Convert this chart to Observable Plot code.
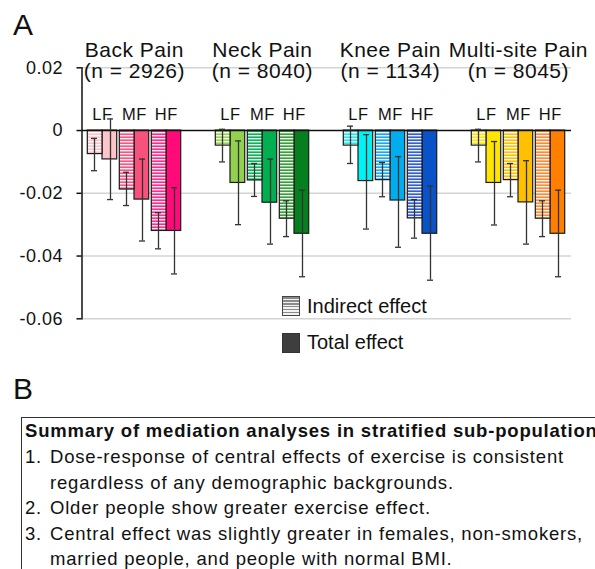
<!DOCTYPE html>
<html>
<head>
<meta charset="utf-8">
<script src="https://cdn.jsdelivr.net/npm/d3@7"></script>
<script src="https://cdn.jsdelivr.net/npm/@observablehq/plot@0.6"></script>
<style>
  html, body { margin: 0; padding: 0; background: #fff; }
  body { width: 595px; height: 569px; overflow: hidden; position: relative;
         font-family: "Liberation Sans", Arial, Helvetica, sans-serif; color: #111; }
  #chart { position: absolute; left: 0; top: 0; }
  .abs { position: absolute; line-height: 1; white-space: nowrap; }
  .panel { font-size: 30px; }
  .leg { font-size: 20px; }
  .sw { position: absolute; width: 16px; height: 18px; box-sizing: content-box; }
  .sw-ind { border: 1.2px solid #444;
            background: repeating-linear-gradient(to bottom, #8a8a8a 0px, #8a8a8a 1.5px, #f2f2f2 1.5px, #f2f2f2 3px); }
  .sw-tot { border: 1.2px solid #333; background: #3e3e3e; }
  #box { position: absolute; left: 21px; top: 416.5px; width: 700px; height: 220px;
         border: 1.5px solid #333; }
  .bt { font-size: 18.5px; letter-spacing: 0.8px; }
  .bold { font-weight: bold; letter-spacing: 0.8px; }
</style>
</head>
<body>
<div id="chart"></div>

<div class="abs panel" style="left:13px; top:9.6px;">A</div>

<div class="sw sw-ind" style="left:282px; top:296px;"></div>
<div class="abs leg" style="left:307px; top:296.2px;">Indirect effect</div>
<div class="sw sw-tot" style="left:282px; top:332.5px;"></div>
<div class="abs leg" style="left:307px; top:331.5px;">Total effect</div>

<div class="abs panel" style="left:13px; top:373.6px;">B</div>
<div id="box"></div>
<div id="summary"></div>

<script>
// ---------------- data ----------------
const groups = ["Back Pain", "Neck Pain", "Knee Pain", "Multi-site Pain"];
const sampleSizes = [2926, 8040, 1134, 8045];
const levels = ["LF", "MF", "HF"];
const effects = ["Indirect", "Total"];

// values in group order (Back, Neck, Knee, Multi-site), each LF, MF, HF
const indirectMean = [-0.0075, -0.0188, -0.0320,  -0.0048, -0.0159, -0.0281,  -0.0048, -0.0158, -0.0280,  -0.0048, -0.0158, -0.0281];
const indirectLow  = [-0.0128, -0.0239, -0.0377,  -0.0100, -0.0210, -0.0338,  -0.0105, -0.0211, -0.0343,  -0.0100, -0.0211, -0.0338];
const indirectHigh = [-0.0025, -0.0133, -0.0262,   0.0004, -0.0105, -0.0224,   0.0014, -0.0102, -0.0220,   0.0004, -0.0105, -0.0224];

const totalMean = [-0.0092, -0.0220, -0.0320,  -0.0167, -0.0230, -0.0329,  -0.0161, -0.0223, -0.0329,  -0.0167, -0.0229, -0.0329];
const totalLow  = [-0.0220, -0.0352, -0.0457,  -0.0300, -0.0362, -0.0466,  -0.0314, -0.0372, -0.0477,  -0.0301, -0.0362, -0.0466];
const totalHigh = [ 0.0037, -0.0091, -0.0182,  -0.0033, -0.0091, -0.0190,  -0.0013, -0.0083, -0.0177,  -0.0035, -0.0096, -0.0190];

const indirectColors = ["#fac4cb", "#fb5582", "#ff2d8c",  "#9ad350", "#0db35a", "#3b9d3b",  "#1ee8f0", "#1aa8ee", "#3360cc",  "#ffe600", "#ffc000", "#ff8a33"];
const totalColors    = ["#fcc5c9", "#f7527b", "#ff0a78",  "#92d050", "#00b050", "#067f1e",  "#00f2f5", "#00aeef", "#0a52c8",  "#ffe600", "#ffc000", "#ff8000"];

const yTicks = [0.02, 0, -0.02, -0.04, -0.06];

const summaryTitle = "Summary of mediation analyses in stratified sub-populations";
const summaryItems = [
  ["1.", "Dose-response of central effects of exercise is consistent"],
  ["",   "regardless of any demographic backgrounds."],
  ["2.", "Older people show greater exercise effect."],
  ["3.", "Central effect was slightly greater in females, non-smokers,"],
  ["",   "married people, and people with normal BMI."]
];

// ---------------- build tables ----------------
const key = (g, l, e) => `${g}|${l}|${e}`;
const xDomain = [];
groups.forEach((g, gi) => {
  levels.forEach(l => effects.forEach(e => xDomain.push(key(g, l, e))));
  if (gi < groups.length - 1) effects.forEach(e => xDomain.push(`gap${gi}|${e}`));
});

const rows = [];
groups.forEach((g, gi) => levels.forEach((l, li) => {
  const i = gi * levels.length + li;
  rows.push({group: g, level: l, effect: "Indirect", x: key(g, l, "Indirect"),
             value: indirectMean[i], lo: indirectLow[i], hi: indirectHigh[i], color: indirectColors[i]});
  rows.push({group: g, level: l, effect: "Total", x: key(g, l, "Total"),
             value: totalMean[i], lo: totalLow[i], hi: totalHigh[i], color: totalColors[i]});
}));
const indirectRows = rows.filter(d => d.effect === "Indirect");
const totalRows = rows.filter(d => d.effect === "Total");
const headerRows = groups.map((g, i) => ({group: g, n: sampleSizes[i], x: key(g, "MF", "Total")}));

// ---------------- layout ----------------
const W = 595, H = 360;
const mL = 81.5, mR = 24, mT = 67.3, mB = 41.7;
const subStep = (W - mL - mR) / xDomain.length;
const barStroke = "#1a1a1a";
const errStroke = "#333";

const chart = Plot.plot({
  width: W, height: H,
  marginLeft: mL, marginRight: mR, marginTop: mT, marginBottom: mB,
  style: {fontFamily: '"Liberation Sans", Arial, Helvetica, sans-serif', fontSize: "17px",
          color: "#111", letterSpacing: "0.5px", background: "transparent", overflow: "visible"},
  x: {domain: xDomain, padding: 0, axis: null},
  y: {domain: [-0.06, 0.02], label: null},
  color: {domain: rows.map(d => d.x), range: rows.map(d => d.color)},
  marks: [
    Plot.ruleY(yTicks.filter(t => t !== 0), {stroke: "#d4d4d4", strokeWidth: 1.5}),
    Plot.barY(totalRows, {x: "x", y: "value", fill: "x", insetRight: 1.3, insetLeft: 0,
                          stroke: barStroke, strokeWidth: 1.2}),
    Plot.barY(indirectRows, {x: "x", y: "value", fill: "x", insetLeft: 1.3, insetRight: 0}),
    Plot.barY(indirectRows, {x: "x", y: "value", fill: "url(#stripes)", insetLeft: 1.3, insetRight: 0,
                             stroke: barStroke, strokeWidth: 1.2}),
    Plot.ruleY([0], {stroke: "#111", strokeWidth: 1.6}),
    Plot.ruleX(rows, {x: "x", y1: "lo", y2: "hi", stroke: errStroke, strokeWidth: 1.3}),
    Plot.tickY(rows, {x: "x", y: "lo", insetLeft: 5, insetRight: 5, stroke: errStroke, strokeWidth: 1.3}),
    Plot.tickY(rows, {x: "x", y: "hi", insetLeft: 5, insetRight: 5, stroke: errStroke, strokeWidth: 1.3}),
    Plot.text(totalRows, {x: "x", y: 0, text: "level", dx: -subStep / 2, dy: -15.5,
                          lineAnchor: "middle", fontSize: 16.5, fill: "#111"}),
    Plot.text(headerRows, {x: "x", text: d => `${d.group}\n(n = ${d.n})`, frameAnchor: "top",
                           dx: -subStep / 2, dy: -7, lineAnchor: "middle", lineHeight: 0.97,
                           fontSize: 21, fill: "#111"}),
    Plot.axisY(yTicks, {tickSize: 5, tickPadding: 14, fontSize: 18, stroke: "#111", strokeWidth: 1.5,
                        fill: "#111", label: null,
                        tickFormat: d => d === 0 ? "0" : String(d)}),
    Plot.frame({anchor: "left", stroke: "#111", strokeWidth: 1.5})
  ]
});

const svg = chart.tagName.toLowerCase() === "svg" ? chart : chart.querySelector("svg");
const defs = d3.select(svg).insert("defs", ":first-child");
const pat = defs.append("pattern").attr("id", "stripes")
  .attr("patternUnits", "userSpaceOnUse").attr("width", 6).attr("height", 3);
pat.append("rect").attr("x", 0).attr("y", 0).attr("width", 6).attr("height", 1.4)
  .attr("fill", "#ffffff").attr("fill-opacity", 0.9);

document.getElementById("chart").appendChild(chart);

// ---------------- panel B text ----------------
const summary = document.getElementById("summary");
const asc = 0.8465 * 18.5;
const titleBaseline = 438;
const itemBaselines = [464, 489.5, 515, 540.5, 566];
const t = document.createElement("div");
t.className = "abs bt bold";
t.style.left = "25px";
t.style.top = (titleBaseline - asc) + "px";
t.textContent = summaryTitle;
summary.appendChild(t);
summaryItems.forEach(([num, txt], i) => {
  if (num) {
    const n = document.createElement("div");
    n.className = "abs bt";
    n.style.left = "25px";
    n.style.top = (itemBaselines[i] - asc) + "px";
    n.textContent = num;
    summary.appendChild(n);
  }
  const d = document.createElement("div");
  d.className = "abs bt";
  d.style.left = "50px";
  d.style.top = (itemBaselines[i] - asc) + "px";
  d.textContent = txt;
  summary.appendChild(d);
});
</script>
</body>
</html>
